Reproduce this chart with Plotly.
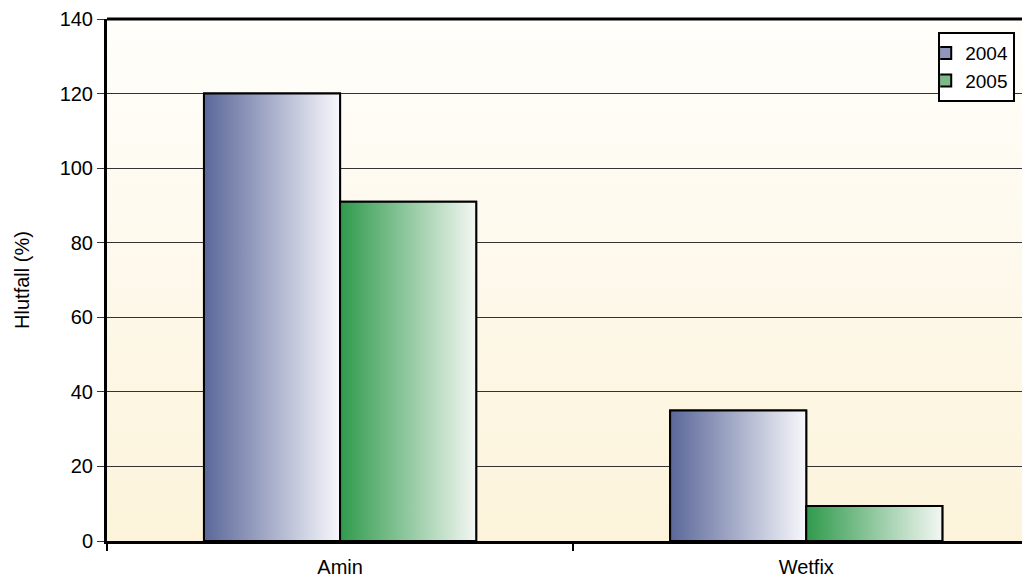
import plotly.graph_objects as go

categories = ["Amin", "Wetfix"]
series_names = ["2004", "2005"]
values_2004 = [120, 35]
values_2005 = [91, 9.4]
y_ticks = [0, 20, 40, 60, 80, 100, 120, 140]

series_values = [values_2004, values_2005]
grad_left = ["#5a6799", "#2f9a4c"]
grad_right = ["#f8f8fc", "#f4f7f3"]
legend_colors = ["#8f97bd", "#7cba8a"]

bar_w = 0.292
offsets = [-bar_w, 0.0]
xs = list(range(len(categories)))

fig = go.Figure()

for name, vals, off, col in zip(series_names, series_values, offsets, legend_colors):
    fig.add_trace(go.Bar(
        x=xs, y=vals, name=name, width=bar_w, offset=off,
        marker=dict(color=col, line=dict(color="black", width=2)),
    ))

for vals, off, c0, c1 in zip(series_values, offsets, grad_left, grad_right):
    for xi, v in zip(xs, vals):
        x0 = xi + off
        x1 = x0 + bar_w
        fig.add_trace(go.Scatter(
            x=[x0, x1, x1, x0, x0], y=[0, 0, v, v, 0],
            mode="lines", fill="toself",
            fillgradient=dict(type="horizontal", colorscale=[[0, c0], [1, c1]]),
            line=dict(color="black", width=2),
            showlegend=False, hoverinfo="skip",
        ))

bg_svg = (
    "data:image/svg+xml;utf8,"
    "<svg xmlns='http://www.w3.org/2000/svg' width='10' height='100' preserveAspectRatio='none'>"
    "<defs><linearGradient id='g' x1='0' y1='0' x2='0' y2='1'>"
    "<stop offset='0' stop-color='%23fffefb'/><stop offset='1' stop-color='%23fcf3da'/>"
    "</linearGradient></defs><rect width='10' height='100' fill='url(%23g)'/></svg>"
)

fig.update_layout(
    width=1030, height=581,
    margin=dict(l=99, r=8, t=11, b=48, autoexpand=False),
    paper_bgcolor="white",
    plot_bgcolor="rgba(0,0,0,0)",
    barmode="overlay",
    font=dict(family="Liberation Sans, Arial, sans-serif", size=20, color="black"),
    images=[dict(source=bg_svg, xref="paper", yref="paper", x=0, y=1,
                 sizex=1, sizey=1, sizing="stretch", layer="below",
                 xanchor="left", yanchor="top")],
    legend=dict(x=0.984, y=0.975, xanchor="right", yanchor="top",
                bgcolor="white", bordercolor="black", borderwidth=2,
                font=dict(size=19), itemwidth=30, tracegroupgap=0,
                indentation=-15),
    showlegend=True,
    shapes=[dict(type="line", xref="paper", yref="paper", x0=0, x1=1, y0=1, y1=1,
                 line=dict(color="black", width=3))],
)

fig.update_xaxes(
    range=[-0.5, 1.48], tickvals=xs, ticktext=categories, ticks="",
    showgrid=False, zeroline=False,
    showline=True, linecolor="black", linewidth=3,
    minor=dict(ticks="outside", tick0=0.5, dtick=1, ticklen=7, tickcolor="black", tickwidth=1.5),
    tickfont=dict(size=20), ticklabelstandoff=6,
)
fig.update_yaxes(
    range=[0, 140], tickvals=y_ticks, ticks="outside", ticklen=7, tickcolor="#333",
    showgrid=True, gridcolor="#333", gridwidth=1, zeroline=False,
    showline=True, linecolor="black", linewidth=3,
    title=dict(text="Hlutfall (%)", font=dict(size=20), standoff=25),
    tickfont=dict(size=20),
)

fig.write_html("out.html")
